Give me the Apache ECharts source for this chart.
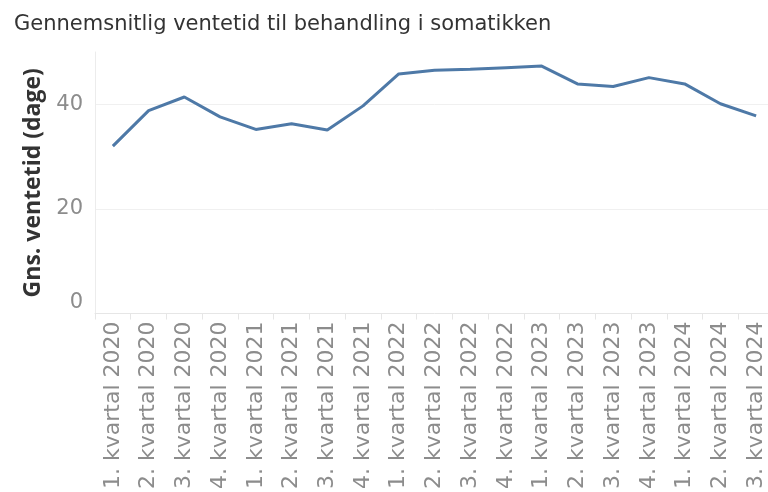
<!DOCTYPE html>
<html>
<head>
<meta charset="utf-8">
<script src="https://cdn.jsdelivr.net/npm/echarts@6/dist/echarts.min.js"></script>
<style>
  html, body { margin: 0; padding: 0; background: #fff; overflow: hidden; }
  #main { width: 774px; height: 492px; }
</style>
</head>
<body>
<div id="main"></div>
<script>
// kvartaler
var categories = [
  '1. kvartal 2020', '2. kvartal 2020', '3. kvartal 2020', '4. kvartal 2020',
  '1. kvartal 2021', '2. kvartal 2021', '3. kvartal 2021', '4. kvartal 2021',
  '1. kvartal 2022', '2. kvartal 2022', '3. kvartal 2022', '4. kvartal 2022',
  '1. kvartal 2023', '2. kvartal 2023', '3. kvartal 2023', '4. kvartal 2023',
  '1. kvartal 2024', '2. kvartal 2024', '3. kvartal 2024'
];
// gns. ventetid i dage
var ventetid = [32.0, 38.8, 41.4, 37.6, 35.2, 36.3, 35.1, 39.7,
                45.8, 46.5, 46.7, 47.0, 47.3, 43.9, 43.4, 45.1,
                43.9, 40.1, 37.8];
var yMin = 0, yMax = 50, yStep = 20;

var myChart = echarts.init(document.getElementById('main'));
myChart.setOption({
  backgroundColor: '#ffffff',
  animation: false,
  title: {
    text: 'Gennemsnitlig ventetid til behandling i somatikken',
    left: 9,
    top: 9,
    textStyle: {
      fontFamily: 'DejaVu Sans',
      fontSize: 21,
      fontWeight: 'normal',
      color: '#333333'
    }
  },
  grid: {
    left: 95,
    right: 0,
    top: 52,
    bottom: 178
  },
  xAxis: {
    type: 'category',
    data: categories,
    boundaryGap: true,
    axisLine: { lineStyle: { color: '#e6e6e6', width: 1 } },
    axisTick: { show: true, length: 6, lineStyle: { color: '#e6e6e6' } },
    axisLabel: {
      rotate: 90,
      margin: 8,
      fontFamily: 'DejaVu Sans',
      fontSize: 22,
      color: '#8c8c8c',
      interval: 0
    }
  },
  yAxis: {
    type: 'value',
    min: yMin,
    max: yMax,
    interval: yStep,
    name: 'Gns. ventetid (dage)',
    nameLocation: 'middle',
    nameGap: 50,
    nameTextStyle: {
      fontFamily: 'Open Sans',
      fontSize: 23,
      fontWeight: 'bold',
      color: '#333333'
    },
    axisLine: { show: true, lineStyle: { color: '#ececec' } },
    axisTick: { show: false },
    axisLabel: {
      showMaxLabel: false,
      verticalAlignMinLabel: 'bottom',
      margin: 12,
      fontFamily: 'DejaVu Sans',
      fontSize: 21,
      color: '#8c8c8c'
    },
    splitLine: {
      show: true,
      showMinLine: false,
      showMaxLine: false,
      lineStyle: { color: '#f0f0f0', width: 1 }
    }
  },
  series: [{
    name: 'Gns. ventetid',
    type: 'line',
    data: ventetid,
    symbol: 'none',
    lineStyle: { color: '#4e79a7', width: 3 },
    itemStyle: { color: '#4e79a7' }
  }]
});
</script>
</body>
</html>
